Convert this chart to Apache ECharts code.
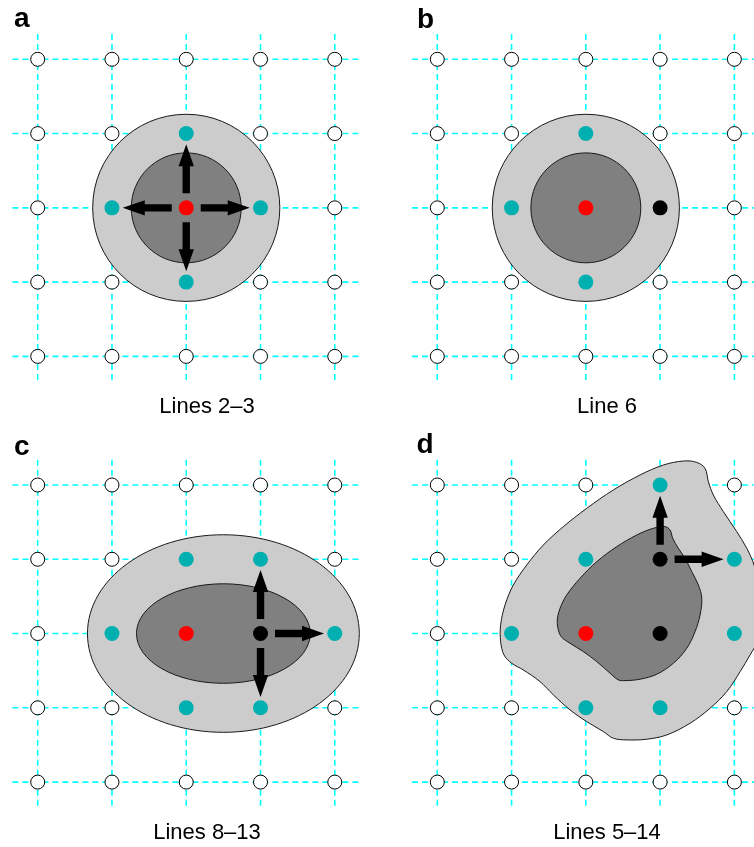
<!DOCTYPE html>
<html>
<head>
<meta charset="utf-8">
<script src="https://cdn.jsdelivr.net/npm/echarts@6/dist/echarts.min.js"></script>
<style>
  html, body { margin: 0; padding: 0; background: #ffffff; }
  #chart { width: 754px; height: 847px; }
</style>
</head>
<body>
<div id="chart"></div>
<script>
// ---- panel texts ----
const panelLetters = ['a', 'b', 'c', 'd'];
const panelCaptions = ['Lines 2–3', 'Line 6', 'Lines 8–13', 'Lines 5–14'];

// lattice node indices (5 x 5 grid in every panel)
const gridNodes = [0, 1, 2, 3, 4];

// ---- panel a ----
const tealA = [[2, 1], [1, 2], [3, 2], [2, 3]];
const redA = [[2, 2]];
const blackA = [];
const arrowsA = [[2, 2, 2, 1], [2, 2, 1, 2], [2, 2, 3, 2], [2, 2, 2, 3]];
const ellipsesA = [[2, 2, 1.26, 1.26], [2, 2, 0.74, 0.74]];

// ---- panel b ----
const tealB = [[2, 1], [1, 2], [2, 3]];
const redB = [[2, 2]];
const blackB = [[3, 2]];
const arrowsB = [];
const ellipsesB = [[2, 2, 1.26, 1.26], [2, 2, 0.74, 0.74]];

// ---- panel c ----
const tealC = [[2, 1], [3, 1], [1, 2], [4, 2], [2, 3], [3, 3]];
const redC = [[2, 2]];
const blackC = [[3, 2]];
const arrowsC = [[3, 2, 3, 1], [3, 2, 4, 2], [3, 2, 3, 3]];
const ellipsesC = [[2.5, 2, 1.83, 1.33], [2.5, 2, 1.17, 0.67]];

// ---- panel d ----
const tealD = [[3, 0], [2, 1], [4, 1], [1, 2], [4, 2], [2, 3], [3, 3]];
const redD = [[2, 2]];
const blackD = [[3, 1], [3, 2]];
const arrowsD = [[3, 1, 3, 0], [3, 1, 4, 1]];
const blobOuterD = [
  [3.315, -0.323], [3.493, -0.305], [3.605, -0.224], [3.650, -0.045], [3.717, 0.135],
  [3.852, 0.359], [4.032, 0.628], [4.167, 0.852], [4.265, 1.077], [4.35, 1.41],
  [4.38, 1.82], [4.32, 2.09], [4.211, 2.288], [4.077, 2.513], [3.897, 2.782],
  [3.673, 3.006], [3.403, 3.208], [3.090, 3.365], [2.820, 3.423], [2.551, 3.432],
  [2.370, 3.410], [2.236, 3.320], [2.012, 3.186], [1.787, 3.028], [1.563, 2.826],
  [1.383, 2.647], [1.158, 2.490], [1.002, 2.400], [0.898, 2.288], [0.853, 2.109],
  [0.853, 1.884], [0.912, 1.615], [1.024, 1.346], [1.204, 1.077], [1.428, 0.808],
  [1.697, 0.561], [2.012, 0.314], [2.370, 0.067], [2.730, -0.135], [3.044, -0.269]
];
const blobInnerD = [
  [3.067, 0.561], [3.134, 0.606], [3.170, 0.718], [3.246, 0.852], [3.336, 0.987],
  [3.426, 1.166], [3.515, 1.346], [3.561, 1.525], [3.538, 1.750], [3.471, 1.974],
  [3.359, 2.198], [3.179, 2.400], [2.955, 2.548], [2.730, 2.615], [2.528, 2.634],
  [2.438, 2.624], [2.326, 2.534], [2.147, 2.378], [1.966, 2.243], [1.787, 2.131],
  [1.675, 2.050], [1.630, 1.952], [1.616, 1.817], [1.653, 1.660], [1.743, 1.480],
  [1.922, 1.256], [2.147, 1.032], [2.416, 0.830], [2.686, 0.673], [2.909, 0.583]
];

// ---- layout ----
const CANVAS_W = 754, CANVAS_H = 847;
const UNIT = 74.27;                 // pixels per lattice step
const AX_MIN = -0.34, AX_MAX = 4.34; // extent of the dashed lattice in lattice units
const origins = [[37.7, 59.3], [437.3, 59.3], [37.7, 485], [437.3, 485]];
const letterPos = [[14, 19], [417, 20], [14, 447], [416.5, 445.5]];
const captionPos = [[207, 407], [607, 407], [207, 833], [607, 833]];

const COLORS = {
  lattice: '#00ffff',
  outer: '#cccccc',
  inner: '#808080',
  edge: '#1a1a1a',
  teal: '#00afaf',
  red: '#ff0000',
  black: '#000000'
};

const panels = [
  { teal: tealA, red: redA, black: blackA, arrows: arrowsA, ellipses: ellipsesA },
  { teal: tealB, red: redB, black: blackB, arrows: arrowsB, ellipses: ellipsesB },
  { teal: tealC, red: redC, black: blackC, arrows: arrowsC, ellipses: ellipsesC },
  { teal: tealD, red: redD, black: blackD, arrows: arrowsD, blobs: [blobOuterD, blobInnerD] }
];

function openNodes(p) {
  const taken = new Set([].concat(p.teal, p.red, p.black).map(d => d[0] + ',' + d[1]));
  const out = [];
  gridNodes.forEach(r => gridNodes.forEach(c => {
    if (!taken.has(c + ',' + r)) out.push([c, r]);
  }));
  return out;
}

const grids = [], xAxes = [], yAxes = [], series = [];

panels.forEach((p, k) => {
  const [ox, oy] = origins[k];
  const left = ox + AX_MIN * UNIT;
  const top = oy + AX_MIN * UNIT;
  // right-hand panels run off the page edge: keep the grid inside the canvas
  const xMax = Math.min(AX_MAX, AX_MIN + (CANVAS_W - left) / UNIT);
  grids.push({
    left: left,
    top: top,
    width: (xMax - AX_MIN) * UNIT,
    height: (AX_MAX - AX_MIN) * UNIT
  });
  xAxes.push({ gridIndex: k, type: 'value', min: AX_MIN, max: xMax, show: false });
  yAxes.push({ gridIndex: k, type: 'value', min: AX_MIN, max: AX_MAX, inverse: true, show: false });

  // dashed lattice lines
  series.push({
    type: 'custom', xAxisIndex: k, yAxisIndex: k, z: 1, silent: true,
    data: gridNodes.map(i => [i, i]),
    renderItem: (params, api) => {
      const i = api.value(0);
      const h0 = api.coord([AX_MIN, i]), h1 = api.coord([AX_MAX, i]);
      const v0 = api.coord([i, AX_MIN]), v1 = api.coord([i, AX_MAX]);
      const st = () => ({ stroke: COLORS.lattice, lineWidth: 1.6, lineDash: [6, 4], fill: null });
      return {
        type: 'group',
        children: [
          { type: 'line', shape: { x1: h0[0], y1: h0[1], x2: h1[0], y2: h1[1] }, style: st() },
          { type: 'line', shape: { x1: v0[0], y1: v0[1], x2: v1[0], y2: v1[1] }, style: st() }
        ]
      };
    }
  });

  // shaded regions
  if (p.ellipses) {
    series.push({
      type: 'custom', xAxisIndex: k, yAxisIndex: k, z: 2, silent: true,
      data: p.ellipses,
      renderItem: (params, api) => {
        const c = api.coord([api.value(0), api.value(1)]);
        const rx = api.size([api.value(2), 0])[0];
        const ry = api.size([0, api.value(3)])[1];
        return {
          type: 'ellipse',
          shape: { cx: c[0], cy: c[1], rx: rx, ry: ry },
          style: { fill: params.dataIndex === 0 ? COLORS.outer : COLORS.inner, stroke: COLORS.edge, lineWidth: 1 }
        };
      }
    });
  } else {
    series.push({
      type: 'custom', xAxisIndex: k, yAxisIndex: k, z: 2, silent: true,
      data: p.blobs.map((b, i) => [i, i]),
      renderItem: (params, api) => {
        const blob = p.blobs[params.dataIndex];
        return {
          type: 'polygon',
          shape: { points: blob.map(pt => api.coord(pt)), smooth: 0.35 },
          style: { fill: params.dataIndex === 0 ? COLORS.outer : COLORS.inner, stroke: COLORS.edge, lineWidth: 1 }
        };
      }
    });
  }

  // empty lattice sites
  series.push({
    type: 'scatter', xAxisIndex: k, yAxisIndex: k, z: 3, silent: true,
    symbol: 'circle', symbolSize: 14,
    itemStyle: { color: '#ffffff', borderColor: '#000000', borderWidth: 1, opacity: 1 },
    data: openNodes(p)
  });
  // coloured sites
  [['teal', p.teal], ['red', p.red], ['black', p.black]].forEach(([name, arr]) => {
    if (!arr.length) return;
    series.push({
      type: 'scatter', xAxisIndex: k, yAxisIndex: k, z: 4, silent: true,
      symbol: 'circle', symbolSize: 15,
      itemStyle: { color: COLORS[name], opacity: 1 },
      data: arr
    });
  });

  // arrows
  if (p.arrows.length) {
    series.push({
      type: 'custom', xAxisIndex: k, yAxisIndex: k, z: 5, silent: true,
      encode: { x: [0, 2], y: [1, 3] },
      data: p.arrows,
      renderItem: (params, api) => {
        const p0 = api.coord([api.value(0), api.value(1)]);
        const p1 = api.coord([api.value(2), api.value(3)]);
        const dx = p1[0] - p0[0], dy = p1[1] - p0[1];
        const L = Math.hypot(dx, dy);
        const ux = dx / L, uy = dy / L, nx = -uy, ny = ux;
        const s = L * 0.195, t = L * 0.855, hb = t - 22;
        const pt = (a, w) => [p0[0] + ux * a + nx * w, p0[1] + uy * a + ny * w];
        const pts = [pt(s, -3.7), pt(hb, -3.7), pt(hb, -7.7), pt(t, 0), pt(hb, 7.7), pt(hb, 3.7), pt(s, 3.7)];
        return { type: 'polygon', shape: { points: pts }, style: { fill: COLORS.black } };
      }
    });
  }
});

const graphics = [];
panelLetters.forEach((l, k) => {
  graphics.push({
    type: 'text', x: letterPos[k][0], y: letterPos[k][1], z: 10,
    style: { text: l, font: 'bold 28px "Liberation Sans", Arial, sans-serif', fill: '#000', align: 'left', verticalAlign: 'middle' }
  });
});
panelCaptions.forEach((c, k) => {
  graphics.push({
    type: 'text', x: captionPos[k][0], y: captionPos[k][1], z: 10,
    style: { text: c, font: '22px "Liberation Sans", Arial, sans-serif', fill: '#000', align: 'center', verticalAlign: 'middle' }
  });
});

const chart = echarts.init(document.getElementById('chart'), null, { renderer: 'canvas' });
chart.setOption({
  backgroundColor: '#ffffff',
  animation: false,
  grid: grids,
  xAxis: xAxes,
  yAxis: yAxes,
  graphic: graphics,
  series: series
});
</script>
</body>
</html>
